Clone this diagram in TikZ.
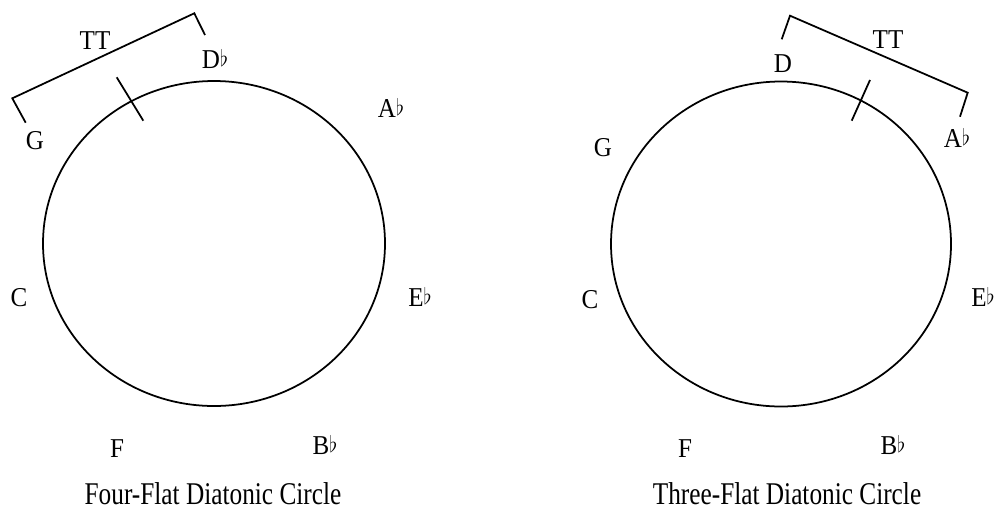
\documentclass[tikz,border=0pt]{standalone}
\usepackage{fontspec}
\setmainfont{Liberation Serif}
\newcommand{\fl}{\raisebox{.15ex}{\scalebox{.9}{$\flat$}}}
\newcommand{\narrow}[2][0.8]{\scalebox{#1}[1]{#2}}

\begin{document}
\begin{tikzpicture}[
        x=0.02cm, y=-0.02cm,
        note/.style={font=\fontsize{15.5}{18}\selectfont, inner sep=0pt},
        caption/.style={font=\fontsize{18}{21}\selectfont, inner sep=0pt},
        ring/.style={line width=1pt},
        bracket/.style={line width=1pt, line join=miter}
    ]
        \useasboundingbox (0,0) rectangle (999,521);

        % Four-flat circle
        \draw[ring] (214,243.5) ellipse [x radius=171, y radius=162.5];
        \node[note] (ldb) at (215,59) {\narrow[.92]{D\fl}};
        \node[note] (lab) at (391,108) {\narrow[.92]{A\fl}};
        \node[note] (leb) at (420,297) {\narrow[.92]{E\fl}};
        \node[note] (lbb) at (325,445) {\narrow[.92]{B\fl}};
        \node[note] (lf) at (117,449) {\narrow[.92]{F}};
        \node[note] (lc) at (19,298) {\narrow[.92]{C}};
        \node[note] (lg) at (35,141) {\narrow[.92]{G}};

        % Tritone bracket G -- Db
        \coordinate (lfoota) at (25.7,122.7);
        \coordinate (lcorna) at (12.3,98.3);
        \coordinate (lcornb) at (194.3,13.3);
        \coordinate (lfootb) at (205,35);
        \draw[bracket] (lfoota) -- (lcorna) -- (lcornb) -- (lfootb);
        \node[note] (ltt) at (95,40.5) {\narrow[.92]{TT}};
        \draw[bracket] (116.7,77.3) -- (143.3,120.7);

        % Three-flat circle
        \draw[ring] (781,244) ellipse [x radius=170, y radius=162.5];
        \node[note] (rd) at (783,64) {\narrow[.92]{D}};
        \node[note] (rab) at (957,138) {\narrow[.92]{A\fl}};
        \node[note] (reb) at (983,297) {\narrow[.92]{E\fl}};
        \node[note] (rbb) at (893,445) {\narrow[.92]{B\fl}};
        \node[note] (rf) at (685,449) {\narrow[.92]{F}};
        \node[note] (rc) at (590,300) {\narrow[.92]{C}};
        \node[note] (rg) at (603,148) {\narrow[.92]{G}};

        % Tritone bracket D -- Ab
        \coordinate (rfoota) at (781.7,39.3);
        \coordinate (rcorna) at (790,15.7);
        \coordinate (rcornb) at (967.7,92.7);
        \coordinate (rfootb) at (960,116.7);
        \draw[bracket] (rfoota) -- (rcorna) -- (rcornb) -- (rfootb);
        \node[note] (rtt) at (888,39.5) {\narrow[.92]{TT}};
        \draw[bracket] (870,80) -- (851.7,120.7);

        % Captions
        \node[caption] (lcap) at (213,494) {\narrow{Four-Flat Diatonic Circle}};
        \node[caption] (rcap) at (787,494) {\narrow{Three-Flat Diatonic Circle}};
\end{tikzpicture}
\end{document}
